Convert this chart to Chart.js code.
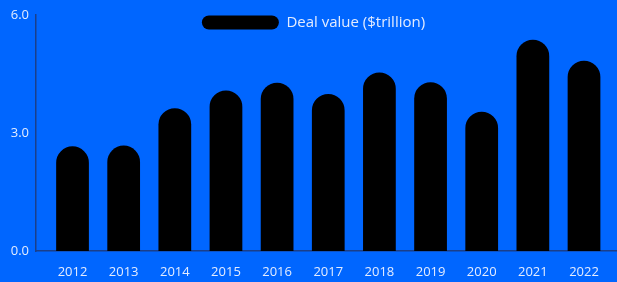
<!DOCTYPE html>
<html>
<head>
<meta charset="utf-8">
<script src="https://cdn.jsdelivr.net/npm/chart.js@4/dist/chart.umd.min.js"></script>
<style>
  html, body { margin: 0; padding: 0; background: #0066ff; }
  #wrap { width: 617px; height: 282px; position: relative; }
</style>
</head>
<body>
<div id="wrap"><canvas id="dealChart"></canvas></div>
<script>
// data
const years = [2012, 2013, 2014, 2015, 2016, 2017, 2018, 2019, 2020, 2021, 2022];
const dealValues = [2.66, 2.68, 3.63, 4.08, 4.28, 3.99, 4.54, 4.29, 3.54, 5.37, 4.84];
const seriesLabel = 'Deal value ($trillion)';
const yTicks = [0, 3, 6];

const textColor = '#e3ecff';
const axisColor = '#1b3f8a';
const fontFamily = "'Open Sans', sans-serif";

// the legend sits over the top of the plot, so move it down after layout
const legendOverlay = {
    id: 'legendOverlay',
    afterLayout(chart) {
        const lg = chart.legend;
        const dy = chart.chartArea.top - 1 - lg.top;
        lg.top += dy;
        lg.bottom += dy;
        lg.left += 5;
        lg.right += 5;
    }
};

const ctx = document.getElementById('dealChart').getContext('2d');

new Chart(ctx, {
    type: 'bar',
    data: {
        datasets: [{
            label: seriesLabel,
            data: years.map((yr, i) => ({ x: yr, y: dealValues[i] })),
            backgroundColor: '#000000',
            borderColor: '#000000',
            borderWidth: 0,
            borderRadius: { topLeft: 40, topRight: 40 },
            borderSkipped: 'bottom',
            categoryPercentage: 0.8,
            barPercentage: 0.8
        }]
    },
    options: {
        responsive: true,
        maintainAspectRatio: false,
        animation: false,
        layout: { padding: { top: -11, left: 0, right: 0, bottom: 0 } },
        plugins: {
            tooltip: { enabled: false },
            legend: {
                position: 'top',
                align: 'center',
                labels: {
                    boxWidth: 77,
                    boxHeight: 14,
                    useBorderRadius: true,
                    borderRadius: 7,
                    padding: 1,
                    color: textColor,
                    font: { family: fontFamily, size: 15 }
                }
            }
        },
        scales: {
            x: {
                type: 'linear',
                offset: false,
                min: 2011.286,
                max: 2022.645,
                afterFit: s => { s.height = 31; },
                grid: { display: false, drawTicks: false },
                border: { display: true, color: axisColor, width: 1.5 },
                ticks: {
                    stepSize: 1,
                    includeBounds: false,
                    autoSkip: false,
                    maxRotation: 0,
                    padding: 13,
                    color: textColor,
                    font: { family: fontFamily, size: 13 },
                    callback: v => Number.isInteger(v) ? String(v) : ''
                }
            },
            y: {
                min: yTicks[0],
                max: yTicks[yTicks.length - 1],
                afterFit: s => { s.width = 36; },
                afterBuildTicks: s => { s.ticks = yTicks.map(v => ({ value: v })); },
                grid: { display: false, drawTicks: false },
                border: { display: true, color: axisColor, width: 1.5 },
                ticks: {
                    padding: 7,
                    color: textColor,
                    font: { family: fontFamily, size: 13 },
                    callback: v => v.toFixed(1)
                }
            }
        }
    },
    plugins: [legendOverlay]
});
</script>
</body>
</html>
